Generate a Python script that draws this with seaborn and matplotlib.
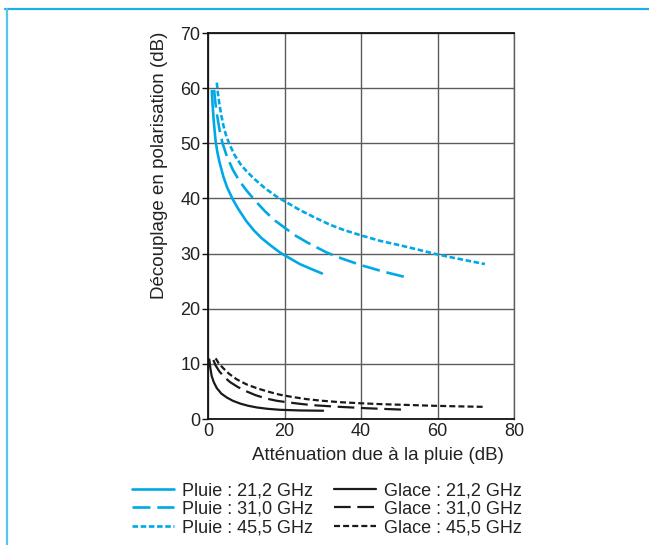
import matplotlib
matplotlib.use("Agg")
import matplotlib.pyplot as plt
from matplotlib.lines import Line2D
import seaborn as sns
import pandas as pd

# Rain-induced depolarisation (Pluie) and ice depolarisation (Glace)
pluie_212_x = [1.0, 1.2, 1.5, 2.0, 2.5, 3.0, 4.0, 5.0, 6.5, 8.0, 10.0, 12.0, 14.0,
               16.5, 18.8, 21.5, 24.0, 27.0, 29.8]
pluie_212_y = [59.5, 57.0, 54.0, 50.3, 48.2, 46.6, 44.0, 42.0, 39.8, 38.0, 35.9, 34.2,
               32.8, 31.4, 30.2, 29.1, 28.1, 27.2, 26.4]

pluie_310_x = [1.6, 1.9, 2.4, 3.0, 3.8, 5.0, 6.5, 8.0, 10.0, 12.3, 15.0, 17.5, 20.0,
               23.0, 26.0, 31.0, 35.0, 40.0, 46.0, 52.4]
pluie_310_y = [59.7, 57.5, 55.0, 52.5, 50.0, 47.5, 45.2, 43.4, 41.5, 39.6, 37.6, 36.0,
               34.7, 33.2, 32.0, 30.2, 29.1, 27.9, 26.7, 25.6]

pluie_455_x = [2.3, 2.6, 3.0, 3.5, 4.0, 4.7, 5.5, 7.0, 8.5, 10.0, 12.0, 15.0, 18.0,
               20.0, 24.0, 28.0, 32.0, 35.4, 40.0, 45.0, 50.2, 55.0, 59.0, 63.0,
               68.0, 72.4]
pluie_455_y = [61.0, 59.0, 57.0, 55.0, 53.3, 51.5, 50.0, 47.8, 46.2, 45.0, 43.6, 41.8,
               40.3, 39.5, 37.9, 36.5, 35.2, 34.3, 33.3, 32.3, 31.5, 30.7, 30.0, 29.4,
               28.7, 28.1]

glace_212_x = [0.35, 0.6, 0.96, 1.5, 2.3, 3.5, 4.9, 6.5, 8.4, 10.5, 12.7, 15.5, 18.8,
               24.0, 30.1]
glace_212_y = [10.8, 9.3, 7.8, 6.7, 5.6, 4.6, 3.9, 3.3, 2.8, 2.4, 2.1, 1.85, 1.67,
               1.55, 1.5]

glace_310_x = [1.4, 2.0, 3.0, 4.3, 5.75, 7.8, 10.1, 12.5, 15.3, 18.0, 20.6, 24.0, 27.5,
               31.0, 34.5, 41.5, 47.0, 52.0]
glace_310_y = [10.7, 9.7, 8.6, 7.6, 6.7, 5.8, 5.0, 4.3, 3.7, 3.3, 3.05, 2.75, 2.5,
               2.35, 2.2, 1.95, 1.8, 1.67]

glace_455_x = [2.0, 2.8, 4.0, 5.5, 7.5, 10.0, 12.7, 15.5, 18.8, 22.0, 25.8, 30.0, 34.5,
               40.0, 45.0, 52.0, 58.9, 65.0, 72.4]
glace_455_y = [11.0, 10.1, 9.2, 8.2, 7.2, 6.3, 5.6, 5.0, 4.4, 4.0, 3.6, 3.3, 3.05,
               2.85, 2.7, 2.55, 2.4, 2.3, 2.2]

labels = ["Pluie : 21,2 GHz", "Pluie : 31,0 GHz", "Pluie : 45,5 GHz",
          "Glace : 21,2 GHz", "Glace : 31,0 GHz", "Glace : 45,5 GHz"]

x_ticks = [0, 20, 40, 60, 80]
y_ticks = [0, 10, 20, 30, 40, 50, 60, 70]

CYAN = "#00A9E6"
BLACK = "#1a1a1a"
TEXT = "#222222"

sns.set_theme(style="white")
plt.rcParams["font.family"] = ["Liberation Sans", "DejaVu Sans"]

fig = plt.figure(figsize=(6.49, 5.45), dpi=100)
fig.patch.set_facecolor("white")
ax = fig.add_axes([208 / 649, 1 - 419 / 545, 306 / 649, 386 / 545])

series = [
    (pluie_212_x, pluie_212_y, CYAN, 1.9, None),
    (pluie_310_x, pluie_310_y, CYAN, 1.9, (6.8, 2.6)),
    (pluie_455_x, pluie_455_y, CYAN, 1.9, (2.1, 1.0)),
    (glace_212_x, glace_212_y, BLACK, 1.6, None),
    (glace_310_x, glace_310_y, BLACK, 1.6, (7.5, 3.0)),
    (glace_455_x, glace_455_y, BLACK, 1.6, (2.7, 1.4)),
]

handles = []
for (xs, ys, col, lw, dash), lab in zip(series, labels):
    df = pd.DataFrame({"x": xs, "y": ys})
    sns.lineplot(data=df, x="x", y="y", color=col, linewidth=lw,
                 sort=False, estimator=None, legend=False, ax=ax)
    line = ax.lines[-1]
    if dash is not None:
        line.set_dashes(dash)
    line.set_label(lab)
    handles.append(line)

ax.set_xlim(0, 80)
ax.set_ylim(0, 70)
ax.set_xticks(x_ticks)
ax.set_yticks(y_ticks)
ax.grid(True, color="#5c5c5c", linewidth=1.0)
ax.set_axisbelow(True)

for side in ["left", "bottom", "top"]:
    ax.spines[side].set_color("#111111")
    ax.spines[side].set_linewidth(1.3)
ax.spines["right"].set_color("#5c5c5c")
ax.spines["right"].set_linewidth(1.0)

ax.tick_params(axis="y", which="major", left=True, length=4, width=1.0,
               color="#111111", pad=1.5, labelsize=13, labelcolor=TEXT)
ax.tick_params(axis="x", which="major", bottom=False, length=0, pad=3,
               labelsize=13, labelcolor=TEXT)

ax.set_xlabel("Atténuation due à la pluie (dB)", fontsize=13.5, color=TEXT)
ax.set_ylabel("Découplage en polarisation (dB)", fontsize=13.5, color=TEXT)
ax.xaxis.set_label_coords(0.556, -0.073)
ax.yaxis.set_label_coords(-0.132, 0.658)

leg = fig.legend(handles=handles, labels=labels, ncol=2, frameon=False,
                 loc="upper left", bbox_to_anchor=(132 / 649, 1 - 482 / 545),
                 fontsize=13, handlelength=2.3, handletextpad=0.45,
                 columnspacing=1.2, labelspacing=0.1, borderpad=0,
                 borderaxespad=0)
for t in leg.get_texts():
    t.set_color(TEXT)

# Decorative cyan frame on the top and left edges
fig.add_artist(Line2D([5 / 649, 1.0], [1 - 8.5 / 545, 1 - 8.5 / 545],
                      transform=fig.transFigure, color="#1FAEE6", linewidth=1.6))
fig.add_artist(Line2D([7 / 649, 7 / 649], [1 - 8.5 / 545, 0.0],
                      transform=fig.transFigure, color="#5BC4EE", linewidth=1.6))

fig.savefig("out.png", dpi=100, facecolor="white")
